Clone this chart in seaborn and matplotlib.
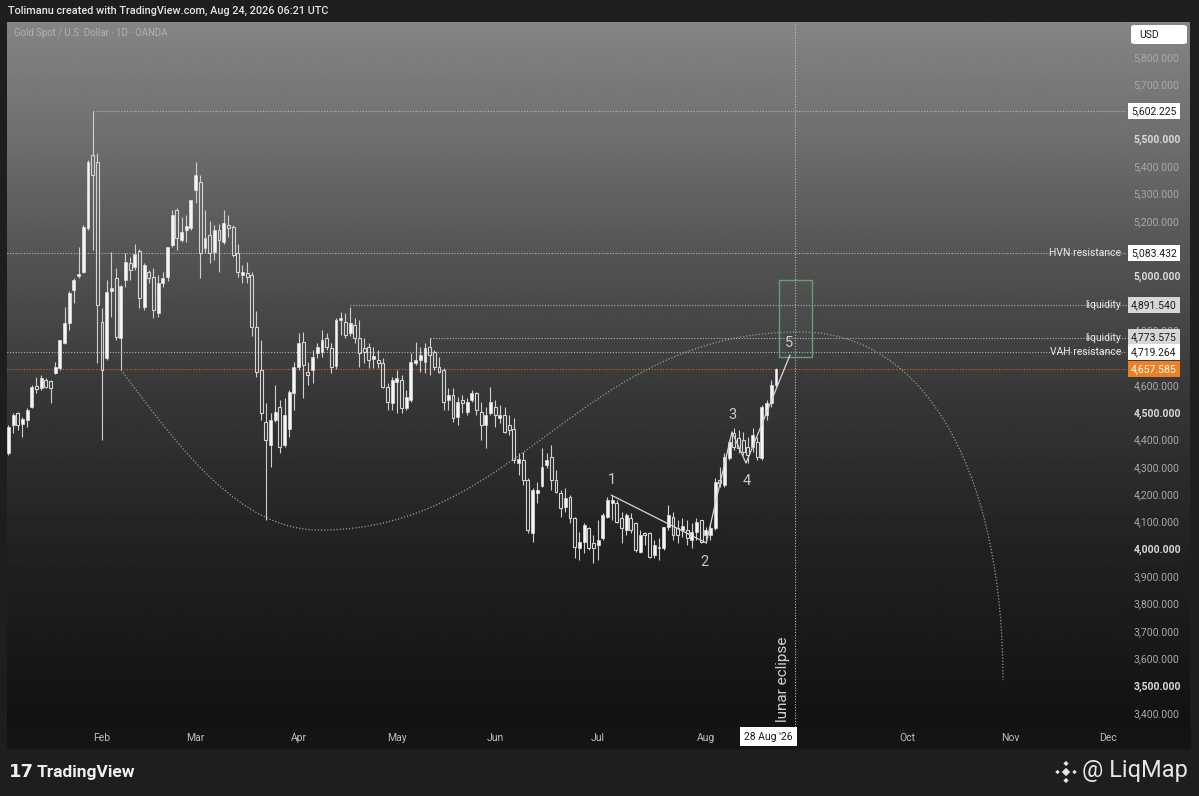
import numpy as np
import pandas as pd
import matplotlib
matplotlib.use("Agg")
import matplotlib.pyplot as plt
import matplotlib.patches as mpatches
import matplotlib.transforms as mtransforms
from matplotlib.path import Path
import seaborn as sns

# Gold Spot / USD daily candles, 5 Jan - 24 Aug 2026
opens = [4351, 4453, 4497, 4457, 4472, 4519, 4596, 4589, 4618, 4614, 4644, 4662, 4753, 4827, 4947, 4998, 5013, 5174, 5441, 5416,
         4830, 4699, 4944, 4991, 4772, 4984, 5045, 5032, 5090, 4885, 5013, 4995, 4863, 4973, 4995, 5112, 5240, 5130, 5167, 5174,
         5313, 5343, 5101, 5149, 5087, 5167, 5123, 5185, 5178, 5083, 5002, 5010, 5002, 4812, 4655, 4464, 4380, 4472, 4519, 4380, 4440, 4571,
         4666, 4757, 4647, 4655, 4717, 4721, 4772, 4735, 4670, 4838, 4830, 4790, 4819, 4772, 4735, 4739, 4695, 4691, 4680, 4593, 4534,
         4611, 4618, 4516, 4545, 4680, 4691, 4684, 4739, 4721, 4666, 4655, 4545, 4563, 4483, 4545, 4501, 4545, 4571, 4501, 4453, 4497,
         4519, 4479, 4490, 4455, 4440, 4314, 4325, 4252, 4058, 4205, 4230, 4307, 4336, 4252, 4205, 4153, 4190, 4113, 4003, 4025, 4077, 4022,
         4014, 4040, 4117, 4168, 4168, 4113, 4069, 4113, 4095, 3989, 4058, 4058, 3978, 4003, 4003, 4080, 4117, 4077, 4069, 4069, 4033, 4062, 4106,
         4051, 4051, 4077, 4252, 4234, 4333, 4424, 4406, 4399, 4373, 4373, 4391, 4333, 4490, 4534, 4600]
highs = [4453, 4497, 4501, 4482, 4516, 4600, 4629, 4636, 4625, 4618, 4684, 4764, 4885, 4944, 4991, 5105, 5185, 5423, 5602, 5449,
         4882, 4984, 5087, 5028, 4966, 5083, 5068, 5116, 5098, 5046, 5021, 5028, 5002, 5013, 5105, 5240, 5248, 5215, 5222, 5277,
         5416, 5368, 5240, 5200, 5185, 5189, 5240, 5222, 5185, 5116, 5039, 5050, 5013, 4870, 4764, 4534, 4497, 4600, 4545, 4552, 4582, 4684,
         4790, 4794, 4684, 4728, 4753, 4801, 4790, 4753, 4845, 4867, 4863, 4885, 4845, 4838, 4772, 4753, 4739, 4728, 4699, 4607, 4629,
         4655, 4636, 4582, 4717, 4757, 4739, 4753, 4772, 4728, 4702, 4662, 4589, 4589, 4556, 4563, 4552, 4582, 4574, 4538, 4519, 4593,
         4545, 4527, 4519, 4490, 4479, 4351, 4355, 4260, 4223, 4245, 4369, 4351, 4380, 4289, 4216, 4223, 4197, 4117, 4062, 4095, 4080, 4051,
         4106, 4131, 4190, 4197, 4179, 4135, 4131, 4131, 4098, 4069, 4062, 4062, 4033, 4040, 4080, 4161, 4135, 4106, 4113, 4106, 4095, 4113, 4106,
         4080, 4088, 4260, 4300, 4351, 4399, 4442, 4435, 4428, 4410, 4442, 4410, 4527, 4545, 4618, 4662]
lows = [4344, 4424, 4435, 4410, 4446, 4516, 4571, 4582, 4589, 4534, 4640, 4655, 4750, 4800, 4900, 4990, 5010, 5167, 5094, 4680,
        4399, 4691, 4849, 4765, 4655, 4958, 4984, 5021, 4882, 4874, 4973, 4845, 4849, 4958, 4980, 5105, 5094, 5123, 5123, 5167,
        5266, 4991, 5083, 5046, 5057, 5013, 5116, 5141, 5068, 4995, 4973, 4973, 4779, 4629, 4472, 4106, 4300, 4464, 4351, 4373, 4410, 4508,
        4655, 4552, 4600, 4607, 4699, 4702, 4728, 4644, 4660, 4782, 4771, 4779, 4753, 4666, 4680, 4662, 4662, 4662, 4589, 4508, 4508,
        4497, 4497, 4508, 4538, 4673, 4647, 4644, 4636, 4655, 4644, 4508, 4508, 4464, 4453, 4497, 4490, 4538, 4490, 4399, 4369, 4490,
        4446, 4461, 4424, 4417, 4314, 4271, 4234, 4058, 4025, 4168, 4225, 4296, 4216, 4205, 4117, 4135, 4095, 3967, 3960, 3985, 3996, 3949,
        3960, 4033, 4113, 4106, 4095, 4022, 4051, 4058, 3989, 3985, 4014, 3967, 3967, 3960, 3996, 4069, 4033, 4022, 4044, 4014, 4003, 4033, 4022,
        4022, 4033, 4069, 4227, 4227, 4325, 4362, 4351, 4344, 4314, 4355, 4325, 4325, 4472, 4519, 4593]
closes = [4446, 4490, 4453, 4475, 4508, 4593, 4585, 4625, 4593, 4589, 4666, 4764, 4827, 4936, 4984, 5005, 5178, 5416, 5368, 4893,
          4655, 4940, 4955, 4776, 4962, 5050, 5020, 5079, 4918, 5039, 4991, 4874, 4973, 4991, 5105, 5222, 5138, 5160, 5182, 5277,
          5368, 5083, 5138, 5083, 5167, 5130, 5193, 5174, 5076, 5013, 5013, 4995, 4812, 4647, 4497, 4399, 4472, 4501, 4373, 4490, 4574, 4666,
          4753, 4673, 4636, 4702, 4739, 4764, 4739, 4666, 4838, 4845, 4782, 4827, 4772, 4717, 4721, 4691, 4706, 4680, 4593, 4538, 4618,
          4625, 4516, 4556, 4684, 4691, 4710, 4735, 4710, 4666, 4647, 4538, 4563, 4479, 4538, 4534, 4538, 4571, 4508, 4453, 4490, 4538,
          4490, 4490, 4428, 4435, 4325, 4329, 4252, 4069, 4216, 4216, 4300, 4325, 4252, 4208, 4150, 4186, 4113, 4007, 4025, 4088, 4003, 4003,
          4033, 4124, 4179, 4179, 4098, 4077, 4124, 4069, 3996, 4051, 4051, 3971, 4014, 4007, 4080, 4124, 4051, 4051, 4084, 4040, 4062, 4098, 4025,
          4069, 4077, 4245, 4241, 4336, 4391, 4373, 4369, 4355, 4344, 4417, 4336, 4519, 4534, 4600, 4657.585]

# horizontal levels drawn on the chart
level_prices = [5602.225, 5083.432, 4891.540, 4773.575, 4719.264, 4657.585]
level_names = ["", "HVN resistance", "liquidity", "liquidity", "VAH resistance", ""]
level_start = [19, 0, 74, 91, 0, 0]
level_box = ["#ffffff", "#ffffff", "#d6d6d6", "#d6d6d6", "#ffffff", "#ee8125"]

# elliott wave count
wave_x = [129.8, 150.1, 155.6, 158.6, 168.0]
wave_y = [4197, 4022, 4428, 4314, 4710]
wave_labels = ["1", "2", "3", "4", "5"]
wave_label_x = [130.0, 149.8, 155.8, 158.8, 167.8]
wave_label_y = [4252, 3952, 4490, 4249, 4754]

month_names = ["Feb", "Mar", "Apr", "May", "Jun", "Jul", "Aug", "Oct", "Nov", "Dec"]
hidden_ticks = [5600, 4900, 4700]   # scale labels covered by the level boxes

sns.set_theme(style="dark")
plt.rcParams["font.family"] = ["Roboto", "DejaVu Sans"]

W, H = 1199, 796
fig = plt.figure(figsize=(W / 100, H / 100), dpi=100)
fig.patch.set_facecolor("#1e1e1e")


def fx(x):
    return x / W


def fy(y):
    return 1 - y / H


# gradient panel behind chart + price scale
bg = fig.add_axes([fx(7), fy(727), fx(1190) - fx(7), fy(22) - fy(727)])
grad = np.interp(np.linspace(0, 1, 400), [0, 0.17, 0.33, 0.54, 0.75, 1.0],
                 [0.52, 0.43, 0.33, 0.21, 0.13, 0.07])
bg.imshow(grad[:, None], cmap="gray", vmin=0, vmax=1, aspect="auto", extent=[0, 1, 0, 1])
bg.set_axis_off()

fig.add_artist(mpatches.Rectangle((fx(7), fy(748)), fx(1190) - fx(7), fy(727) - fy(748),
                                  transform=fig.transFigure, color="#141414", zorder=0))

ax = fig.add_axes([fx(7), fy(727), fx(1127) - fx(7), fy(22) - fy(727)])
ax.set_facecolor("none")

# bar positions: business days from 2 Jan 2026 (Good Friday closed)
days = pd.bdate_range("2026-01-02", "2026-12-31")
days = days[days != pd.Timestamp("2026-04-03")]
pos = pd.Series(np.arange(len(days)), index=days)
first_of_month = pos.groupby(days.month).first()
month_pos = [first_of_month[m] for m in [2, 3, 4, 5, 6, 7, 8, 10, 11, 12]]

o = np.array(opens, dtype=float)
h = np.array(highs, dtype=float)
l = np.array(lows, dtype=float)
c = np.array(closes, dtype=float)
x = np.arange(1, len(o) + 1)
up = c >= o
lo_b = np.minimum(o, c)
hi_b = np.maximum(o, c)
hgt = np.maximum(hi_b - lo_b, 2.0)

wick = "#cfcfcf"
ax.vlines(x, l, lo_b, color=wick, lw=0.8, zorder=3)
ax.vlines(x, hi_b, h, color=wick, lw=0.8, zorder=3)
ax.bar(x[up], hgt[up], bottom=lo_b[up], width=0.62, color="#f5f5f5",
       edgecolor="#f5f5f5", linewidth=0.4, zorder=4)
ax.bar(x[~up], hgt[~up], bottom=lo_b[~up], width=0.62, facecolor="none",
       edgecolor="#d4d4d4", linewidth=0.8, zorder=4)

dot = (0, (1, 1.5))
trans = mtransforms.blended_transform_factory(ax.transAxes, ax.transData)
for price, name, start, face in zip(level_prices, level_names, level_start, level_box):
    lc = "#c0683a" if face == "#ee8125" else "#b4b4b4"
    ax.plot([start, 241], [price, price], color=lc, ls=dot, lw=0.8, zorder=2)
    if name:
        ax.text(0.9946, price, name, transform=trans, ha="right", va="center",
                fontsize=7.5, color="#e8e8e8", zorder=6)
    tcol = "#ffffff" if face == "#ee8125" else "#1c1c1c"
    ax.text(1.0036, price, f"{price:,.3f}", transform=trans, ha="left", va="center",
            fontsize=7.5, color=tcol, clip_on=False, zorder=6,
            bbox=dict(boxstyle="square,pad=0.3", fc=face, ec="none"))

# projected arc
arc = Path([(25.06, 4655), (37.88, 4362), (50.49, 4069), (67.58, 4069),
            (110.32, 4069), (123.14, 4794), (170.15, 4794),
            (197.92, 4794), (213.5, 4252), (213.5, 3520)],
           [Path.MOVETO] + [Path.CURVE4] * 9)
ax.add_patch(mpatches.PathPatch(arc, fc="none", ec="#7fae80", ls=dot, lw=0.9, zorder=2))

# target box for wave 5
ax.add_patch(mpatches.Rectangle((165.7, 4702), 7.0, 282, fc=(0.45, 0.65, 0.5, 0.06),
                                ec="#6f9a76", lw=1.0, zorder=2))

# wave lines and labels
sns.lineplot(x=wave_x, y=wave_y, sort=False, estimator=None, color="#d6d6d6", lw=0.9, ax=ax, zorder=5)
for lx, ly, lab in zip(wave_label_x, wave_label_y, wave_labels):
    ax.text(lx, ly, lab, ha="center", va="center", fontsize=10.5, color="#c8c8c8", zorder=6)

# lunar eclipse marker
ax.axvline(169, color="#bdbdbd", ls=dot, lw=0.8, zorder=2)
ax.text(166.5, 3367, "lunar eclipse", rotation=90, ha="center", va="bottom",
        fontsize=11, color="#d0d0d0", zorder=6)

ax.set_xlim(0.7, 240.0)
ax.set_ylim(3348.5, 5928)
ax.grid(False)
for s in ax.spines.values():
    s.set_visible(False)
ax.set_xlabel("")
ax.set_ylabel("")

ax.yaxis.tick_right()
ticks = np.arange(3400, 5801, 100)
ax.set_yticks(ticks, ["" if t in hidden_ticks else f"{t:,.3f}" for t in ticks])
ax.tick_params(axis="y", length=0, pad=4.5, labelsize=7.5, labelcolor="#a9a9a9")
for t, lab in zip(ticks, ax.get_yticklabels()):
    if t % 500 == 0:
        lab.set_color("#dadada")
        lab.set_fontweight("bold")

ax.set_xticks(month_pos, month_names)
ax.tick_params(axis="x", length=0, pad=4, labelsize=7.5, labelcolor="#bdbdbd")

# header, titles, boxes
fig.text(fx(8), fy(11), "Tolimanu created with TradingView.com, Aug 24, 2026 06:21 UTC",
         fontsize=7.8, fontweight="medium", color="#e6e6e6", va="center")
fig.text(fx(14), fy(33), "Gold Spot / U.S. Dollar · 1D · OANDA", fontsize=6.9,
         color="#b2b2b2", va="center")

fig.add_artist(mpatches.FancyBboxPatch((fx(1131), fy(44)), fx(56), 19 / H,
                                       boxstyle="round,pad=0,rounding_size=0.003",
                                       transform=fig.transFigure, fc="#ffffff", ec="none"))
fig.text(fx(1139), fy(34.5), "USD", fontsize=7.5, color="#1c1c1c", va="center")

fig.add_artist(mpatches.Rectangle((fx(740), fy(746)), fx(57), 19 / H,
                                  transform=fig.transFigure, fc="#ffffff", ec="none"))
fig.text(fx(768.5), fy(736.5), "28 Aug '26", fontsize=7.5, color="#1c1c1c",
         ha="center", va="center")

# footer
fig.text(fx(9), fy(772), "17", fontsize=13, fontweight="heavy", color="#f0f0f0",
         va="center", family="DejaVu Sans")
fig.text(fx(37), fy(772), "TradingView", fontsize=12.5, fontweight="semibold",
         color="#f0f0f0", va="center")
fig.text(fx(1188), fy(771), "@ LiqMap", fontsize=17, color="#e6e6e6",
         ha="right", va="center")

logo = fig.add_axes([fx(1054), fy(784), fx(24), 24 / H])
logo.set_xlim(0, 24)
logo.set_ylim(24, 0)
logo.set_axis_off()
for cx, cy, r in [(12, 12, 4.2), (12, 3.5, 2.6), (12, 20.5, 2.6), (3.5, 12, 2.2), (20.5, 12, 2.2)]:
    logo.add_patch(mpatches.RegularPolygon((cx, cy), 4, radius=r, fc="#e6e6e6", ec="none"))

fig.savefig("out.png", dpi=100, facecolor=fig.get_facecolor())
